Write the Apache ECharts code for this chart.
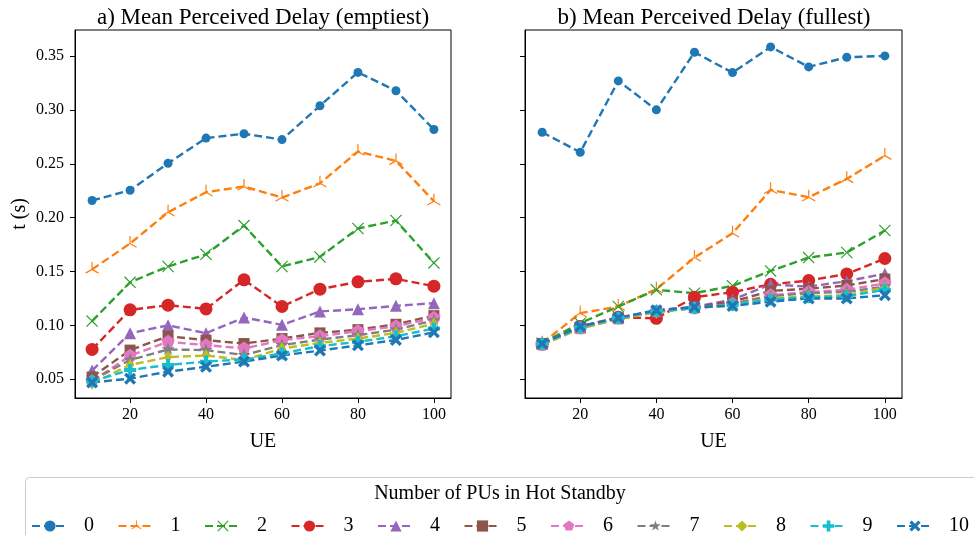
<!DOCTYPE html>
<html><head><meta charset="utf-8">
<script src="https://cdn.jsdelivr.net/npm/echarts@6/dist/echarts.min.js"></script>
<style>html,body{margin:0;padding:0;background:#fff}#c{width:974px;height:535px}</style>
</head><body><div id="c"></div>
<script>
// ---- data ----
const ue = [10, 20, 30, 40, 50, 60, 70, 80, 90, 100];
const xTicks = [20, 40, 60, 80, 100];
const yTicks = [0.05, 0.10, 0.15, 0.20, 0.25, 0.30, 0.35];
const puNames = ['0','1','2','3','4','5','6','7','8','9','10'];
const legendTitle = 'Number of PUs in Hot Standby';
const titleA = 'a) Mean Perceived Delay (emptiest)';
const titleB = 'b) Mean Perceived Delay (fullest)';

const emptiest0 = [0.216, 0.2255, 0.2506, 0.274, 0.278, 0.2726, 0.304, 0.335, 0.318, 0.282];
const emptiest1 = [0.152, 0.176, 0.205, 0.2237, 0.229, 0.2187, 0.232, 0.2615, 0.2528, 0.2153];
const emptiest2 = [0.104, 0.140, 0.1547, 0.166, 0.1927, 0.1547, 0.1636, 0.190, 0.1974, 0.158];
const emptiest3 = [0.0776, 0.1144, 0.1187, 0.1153, 0.1423, 0.1175, 0.1336, 0.1404, 0.1432, 0.1364];
const emptiest4 = [0.058, 0.0927, 0.100, 0.0927, 0.1073, 0.1005, 0.1129, 0.115, 0.1181, 0.1206];
const emptiest5 = [0.052, 0.077, 0.0899, 0.0862, 0.0831, 0.0877, 0.093, 0.096, 0.101, 0.109];
const emptiest6 = [0.048, 0.0718, 0.0847, 0.0816, 0.0785, 0.0862, 0.0899, 0.0945, 0.0991, 0.107];
const emptiest7 = [0.049, 0.0678, 0.0776, 0.077, 0.0724, 0.0816, 0.0868, 0.0908, 0.096, 0.1046];
const emptiest8 = [0.046, 0.0632, 0.0705, 0.072, 0.0678, 0.0785, 0.0837, 0.0877, 0.093, 0.1015];
const emptiest9 = [0.048, 0.0586, 0.0632, 0.0663, 0.0684, 0.0739, 0.0807, 0.0847, 0.0899, 0.097];
const emptiest10 = [0.047, 0.0505, 0.057, 0.0615, 0.0663, 0.072, 0.0766, 0.0814, 0.0864, 0.0935];

const fullest0 = [0.2794, 0.2608, 0.3271, 0.3002, 0.3537, 0.3348, 0.3587, 0.3401, 0.3491, 0.3503];
const fullest1 = [0.0834, 0.1113, 0.1175, 0.1336, 0.163, 0.1856, 0.2259, 0.219, 0.2361, 0.2577];
const fullest2 = [0.0834, 0.102, 0.1175, 0.133, 0.1299, 0.1367, 0.1506, 0.163, 0.1677, 0.1881];
const fullest3 = [0.0825, 0.099, 0.1075, 0.1065, 0.1262, 0.1308, 0.1382, 0.1416, 0.1478, 0.1621];
const fullest4 = [0.083, 0.098, 0.107, 0.114, 0.117, 0.124, 0.138, 0.136, 0.141, 0.148];
const fullest5 = [0.083, 0.098, 0.107, 0.113, 0.117, 0.122, 0.132, 0.134, 0.137, 0.143];
const fullest6 = [0.082, 0.097, 0.106, 0.113, 0.116, 0.120, 0.128, 0.131, 0.133, 0.139];
const fullest7 = [0.083, 0.098, 0.106, 0.113, 0.116, 0.120, 0.127, 0.130, 0.131, 0.136];
const fullest8 = [0.082, 0.097, 0.106, 0.112, 0.116, 0.119, 0.125, 0.127, 0.128, 0.135];
const fullest9 = [0.083, 0.098, 0.107, 0.113, 0.116, 0.119, 0.124, 0.126, 0.127, 0.133];
const fullest10 = [0.083, 0.099, 0.107, 0.114, 0.117, 0.118, 0.122, 0.125, 0.125, 0.128];

const emptiestAll = [emptiest0, emptiest1, emptiest2, emptiest3, emptiest4, emptiest5, emptiest6, emptiest7, emptiest8, emptiest9, emptiest10];
const fullestAll = [fullest0, fullest1, fullest2, fullest3, fullest4, fullest5, fullest6, fullest7, fullest8, fullest9, fullest10];

// ---- styles ----
const colors = ['#1f77b4','#ff7f0e','#2ca02c','#d62728','#9467bd','#8c564b','#e377c2','#7f7f7f','#bcbd22','#17becf','#1f77b4'];
const pad = ' M-1,-1 L-1,-1 Z M1,1 L1,1 Z';
const SYM = {
  tri: 'path://M-0.08,0.08 L0.08,0.08 L0.08,-1 L-0.08,-1 Z M0.04,0.069 L-0.04,-0.069 L-0.906,0.431 L-0.826,0.569 Z M0.826,0.569 L0.906,0.431 L0.04,-0.069 L-0.04,0.069 Z' + pad,
  x: 'path://M-1,-0.86 L-0.86,-1 L0,-0.14 L0.86,-1 L1,-0.86 L0.14,0 L1,0.86 L0.86,1 L0,0.14 L-0.86,1 L-1,0.86 L-0.14,0 Z' + pad,
  pent: 'path://M0,-1 L0.9511,-0.309 L0.5878,0.809 L-0.5878,0.809 L-0.9511,-0.309 Z' + pad,
  star: 'path://M0,-1 L0.2234,-0.3074 L0.9511,-0.309 L0.3614,0.1174 L0.5878,0.809 L0,0.38 L-0.5878,0.809 L-0.3614,0.1174 L-0.9511,-0.309 L-0.2234,-0.3074 Z' + pad,
  plus: 'path://M-0.33,-1 L0.33,-1 L0.33,-0.33 L1,-0.33 L1,0.33 L0.33,0.33 L0.33,1 L-0.33,1 L-0.33,0.33 L-1,0.33 L-1,-0.33 L-0.33,-0.33 Z' + pad,
  X: 'path://M-1,-0.6 L-0.6,-1 L0,-0.4 L0.6,-1 L1,-0.6 L0.4,0 L1,0.6 L0.6,1 L0,0.4 L-0.6,1 L-1,0.6 L-0.4,0 Z' + pad
};
const symbols = ['circle', SYM.tri, SYM.x, 'circle', 'triangle', 'rect', SYM.pent, SYM.star, 'diamond', SYM.plus, SYM.X];
const sizes = [9, 15, 12, 13, 12, 11, 14, 14, [8,13], 12, 12];

const FONT = "'Liberation Serif','DejaVu Serif',serif";

function makeSeries(arrs, gi) {
  return arrs.map((arr, k) => ({
    name: puNames[k],
    type: 'line',
    xAxisIndex: gi, yAxisIndex: gi,
    data: ue.map((x, i) => [x, arr[i]]),
    symbol: symbols[k],
    symbolSize: sizes[k],
    symbolKeepAspect: true,
    showAllSymbol: true,
    color: colors[k],
    itemStyle: { color: colors[k], opacity: 1 },
    lineStyle: { color: colors[k], width: 2.4, type: [8, 4] },
    emphasis: { disabled: true },
    animation: false,
    z: 2
  }));
}

function xAxis(gi) {
  return {
    type: 'value', gridIndex: gi, min: 5.5, max: 104.5,
    name: 'UE', nameLocation: 'middle', nameGap: 34,
    nameTextStyle: { fontFamily: FONT, fontSize: 20, color: '#000' },
    axisLine: { show: true, onZero: false, lineStyle: { color: '#000', width: 1 } },
    axisTick: { show: true, length: 5, customValues: xTicks, lineStyle: { color: '#000' } },
    axisLabel: { customValues: xTicks, fontFamily: FONT, fontSize: 16, color: '#000', margin: 9 },
    splitLine: { show: false }
  };
}
function yAxis(gi) {
  return {
    type: 'value', gridIndex: gi, min: 0.0325, max: 0.3744,
    name: gi === 0 ? 't (s)' : '', nameLocation: 'middle', nameGap: 45,
    nameTextStyle: { fontFamily: FONT, fontSize: 20, color: '#000' },
    axisLine: { show: true, onZero: false, lineStyle: { color: '#000', width: 1 } },
    axisTick: { show: true, length: 5, customValues: yTicks, lineStyle: { color: '#000' } },
    axisLabel: { show: gi === 0, customValues: yTicks, fontFamily: FONT, fontSize: 16, color: '#000', margin: 11,
      formatter: v => v.toFixed(2) },
    splitLine: { show: false }
  };
}

const chart = echarts.init(document.getElementById('c'), null, { renderer: 'canvas' });
chart.setOption({
  backgroundColor: '#fff',
  animation: false,
  textStyle: { fontFamily: FONT },
  title: [
    { text: titleA, left: 258, top: 1, textAlign: 'center', textStyle: { fontFamily: FONT, fontSize: 23, fontWeight: 'normal', color: '#000' } },
    { text: titleB, left: 709, top: 1, textAlign: 'center', textStyle: { fontFamily: FONT, fontSize: 23, fontWeight: 'normal', color: '#000' } }
  ],
  grid: [
    { left: 75, top: 30, width: 376, height: 368, show: true, borderColor: '#000', borderWidth: 1, backgroundColor: 'transparent' },
    { left: 525, top: 30, width: 377, height: 368, show: true, borderColor: '#000', borderWidth: 1, backgroundColor: 'transparent' }
  ],
  xAxis: [xAxis(0), xAxis(1)],
  yAxis: [yAxis(0), yAxis(1)],
  legend: {
    data: puNames,
    left: 26, top: 511, width: 1100,
    itemWidth: 36, itemHeight: 14, itemGap: 23.5,
    textStyle: { fontFamily: FONT, fontSize: 20, color: '#000', padding: [0, 0, 0, 11] },
    selectedMode: false
  },
  graphic: [
    { type: 'rect', left: 25, top: 477, z: -1, shape: { width: 970, height: 80, r: 4 },
      style: { fill: '#fff', stroke: '#cccccc', lineWidth: 1 } },
    { type: 'text', x: 500, y: 494, z: 10,
      style: { text: legendTitle, font: "20px 'Liberation Serif','DejaVu Serif',serif", fill: '#000', textAlign: 'center', textVerticalAlign: 'middle' } }
  ],
  series: [...makeSeries(emptiestAll, 0), ...makeSeries(fullestAll, 1)]
});
</script>
</body></html>
